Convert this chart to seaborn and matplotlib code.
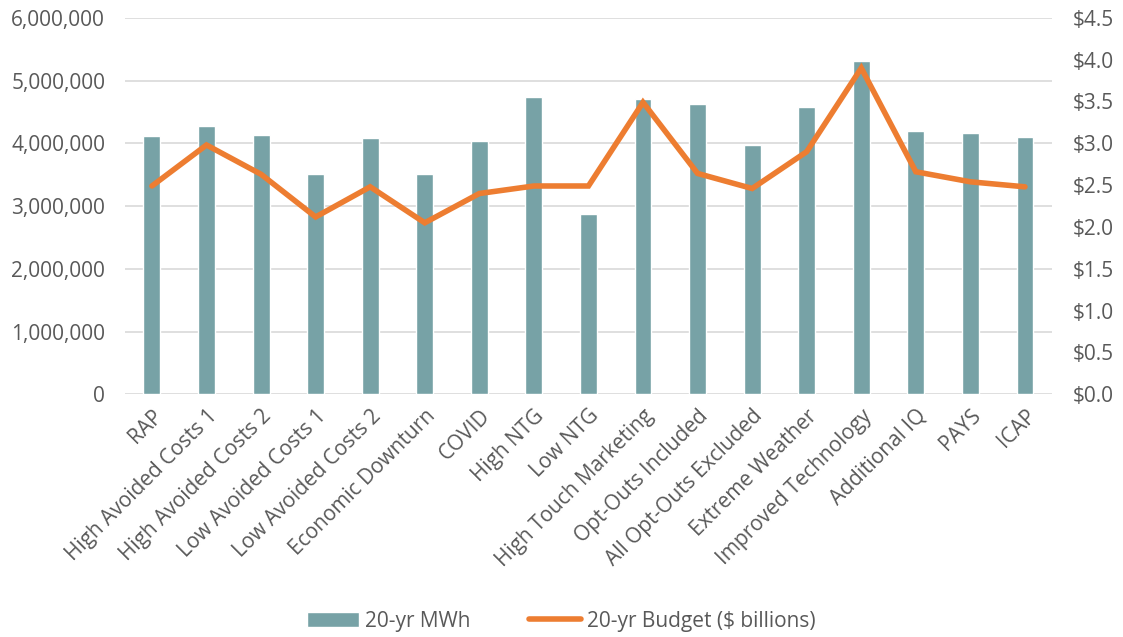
import numpy as np
import pandas as pd
import seaborn as sns
import matplotlib.pyplot as plt
from matplotlib.patches import Patch
from matplotlib.lines import Line2D
from matplotlib.ticker import FuncFormatter

scenarios = ["RAP", "High Avoided Costs 1", "High Avoided Costs 2", "Low Avoided Costs 1",
             "Low Avoided Costs 2", "Economic Downturn", "COVID", "High NTG", "Low NTG",
             "High Touch Marketing", "Opt-Outs Included", "All Opt-Outs Excluded",
             "Extreme Weather", "Improved Technology", "Additional IQ", "PAYS", "ICAP"]
mwh_20yr = [4120000, 4270000, 4130000, 3510000, 4090000, 3510000, 4030000, 4740000, 2880000,
            4700000, 4630000, 3980000, 4580000, 5310000, 4200000, 4160000, 4100000]
budget_20yr = [2.49, 2.98, 2.63, 2.12, 2.48, 2.05, 2.40, 2.49, 2.49,
               3.49, 2.64, 2.46, 2.90, 3.90, 2.66, 2.54, 2.48]

bar_color = "#77A2A6"
line_color = "#ED7D31"
text_color = "#595959"

sns.set_style("white")
plt.rcParams["font.family"] = ["Open Sans", "DejaVu Sans"]

df = pd.DataFrame({"Scenario": scenarios, "MWh": mwh_20yr, "Budget": budget_20yr})
df["pos"] = np.arange(len(df))

fig = plt.figure(figsize=(11.23, 6.37), dpi=100)
ax = fig.add_axes([0.111, 0.381, 0.826, 0.591])
sns.barplot(data=df, x="Scenario", y="MWh", color=bar_color, width=0.31,
            saturation=1, ax=ax, zorder=2)
ax.set_ylim(0, 6000000)
ax.set_yticks(np.arange(0, 6000001, 1000000))
ax.yaxis.set_major_formatter(FuncFormatter(lambda v, p: f"{v:,.0f}"))
ax.grid(axis="y", color="#D9D9D9", linewidth=1.2, zorder=0)
ax.set_axisbelow(True)
ax.set_xlabel("")
ax.set_ylabel("")
ax.set_xlim(-0.5, len(scenarios) - 0.5)
ax.tick_params(axis="y", length=0, labelsize=15, colors=text_color, pad=14)
ax.tick_params(axis="x", length=0, labelsize=15, colors=text_color, pad=8)
plt.setp(ax.get_xticklabels(), rotation=45, ha="right", rotation_mode="anchor")
for s in ax.spines.values():
    s.set_visible(False)

ax2 = ax.twinx()
sns.lineplot(data=df, x="pos", y="Budget", color=line_color, linewidth=4, ax=ax2,
             solid_capstyle="round", solid_joinstyle="miter")
ax2.set_ylim(0, 4.5)
ax2.set_yticks(np.arange(0, 4.51, 0.5))
ax2.yaxis.set_major_formatter(FuncFormatter(lambda v, p: f"${v:.1f}"))
ax2.set_ylabel("")
ax2.set_xlabel("")
ax2.tick_params(axis="y", length=0, labelsize=15, colors=text_color, pad=15)
for s in ax2.spines.values():
    s.set_visible(False)

handles = [Patch(facecolor=bar_color, label="20-yr MWh"),
           Line2D([0], [0], color=line_color, linewidth=4, solid_capstyle="round",
                  label="20-yr Budget ($ billions)")]
fig.legend(handles=handles, loc="center", bbox_to_anchor=(0.5, 0.025), ncol=2,
           frameon=False, fontsize=15, labelcolor=text_color, handlelength=2.5,
           columnspacing=2.8, handletextpad=0.3)

plt.savefig("out.png", dpi=100)
plt.close()
